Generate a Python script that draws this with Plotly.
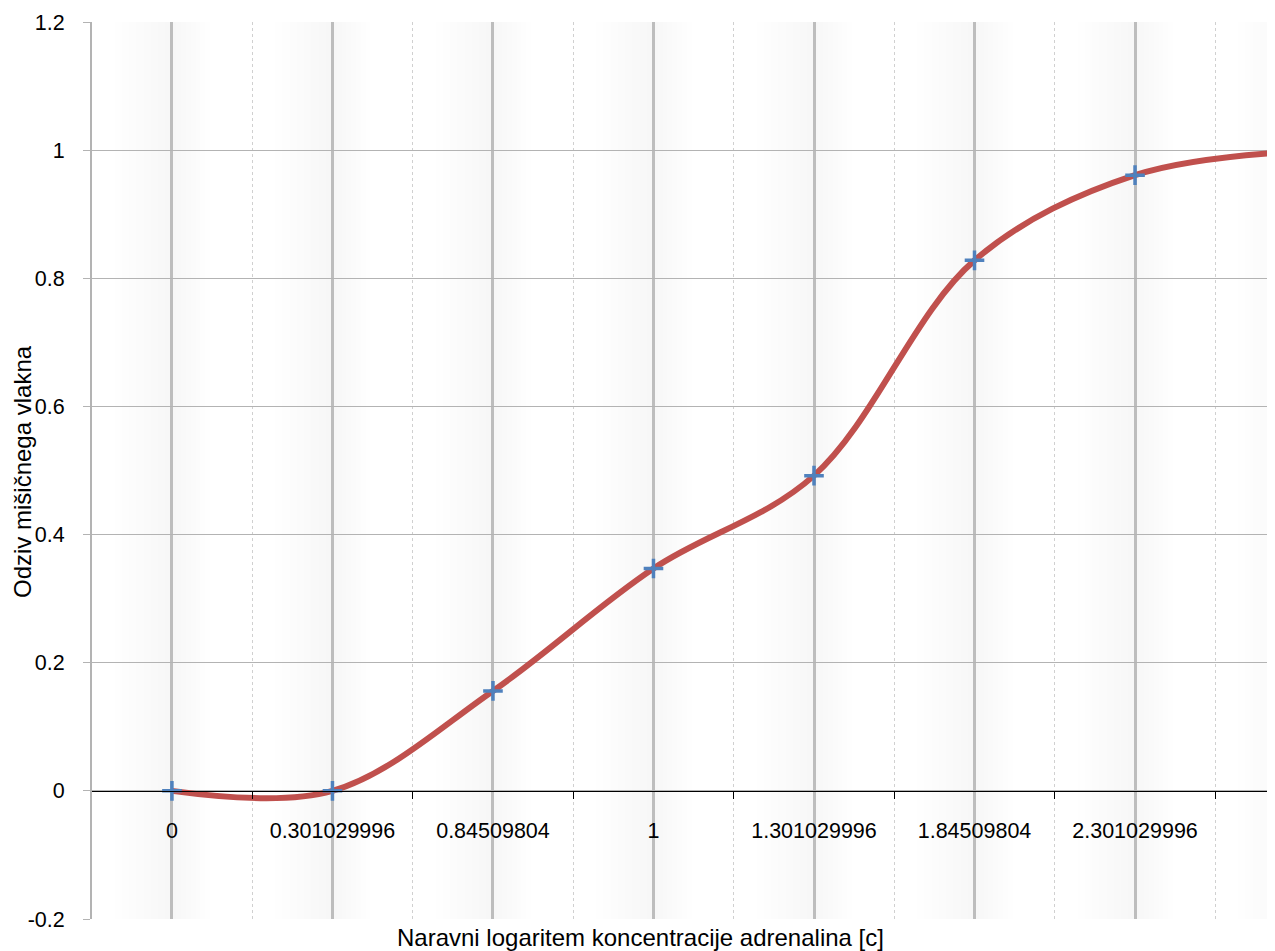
import plotly.graph_objects as go

categories = ["0", "0.301029996", "0.84509804", "1", "1.301029996",
              "1.84509804", "2.301029996", "2.84509804"]
response = [0.0, 0.0, 0.156, 0.347, 0.492, 0.828, 0.961, 0.998]
y_ticks = [-0.2, 0, 0.2, 0.4, 0.6, 0.8, 1, 1.2]
y_tick_labels = ["-0.2", "0", "0.2", "0.4", "0.6", "0.8", "1", "1.2"]

idx = list(range(len(categories)))

fig = go.Figure()

# soft shadow bands around each major vertical grid line
shapes = []
for i in idx:
    for k in range(1, 9):
        shapes.append(dict(type="rect", xref="x", yref="y domain",
                           x0=i - 0.045 * k, x1=i, y0=0, y1=1,
                           fillcolor="black", opacity=0.0055,
                           line=dict(width=0), layer="below"))
        shapes.append(dict(type="rect", xref="x", yref="y domain",
                           x0=i, x1=i + 0.03 * k, y0=0, y1=1,
                           fillcolor="black", opacity=0.0055,
                           line=dict(width=0), layer="below"))

fig.add_trace(go.Scatter(
    x=idx, y=response, mode="lines+markers",
    line=dict(color="#C0504D", width=6, shape="spline", smoothing=1.0),
    marker=dict(symbol="cross-thin", size=14,
                line=dict(color="#4F81BD", width=3.5), color="#4F81BD"),
    showlegend=False, cliponaxis=True,
))

font = "Liberation Sans, Arial, sans-serif"

# page body has an 8px margin: figure is sized/offset to compensate
W, H = 1267, 943
L, T, B = 84, 14, 32
PW, PH = W - L, H - T - B

fig.update_layout(
    width=W, height=H,
    margin=dict(l=L, r=0, t=T, b=B),
    plot_bgcolor="white", paper_bgcolor="white",
    font=dict(family=font, size=21.5, color="black"),
    shapes=shapes,
    xaxis=dict(
        range=[-0.498, 6.872],
        tickmode="array", tickvals=idx, ticktext=categories,
        showgrid=True, gridcolor="#bdbdbd", gridwidth=3,
        zeroline=False,
        showline=True, linecolor="black", linewidth=1,
        anchor="free", position=(919 - 791) / 897,
        ticks="", ticklabelstandoff=20,
        tickfont=dict(size=21.5, family=font),
        minor=dict(tick0=-0.5, dtick=1, showgrid=True, gridcolor="#d0d0d0",
                   griddash="dot", gridwidth=1, ticks="outside",
                   ticklen=7, tickcolor="black", tickwidth=1),
        automargin=False,
    ),
    yaxis=dict(
        range=[-0.2, 1.2],
        tickmode="array", tickvals=y_ticks, ticktext=y_tick_labels,
        showgrid=True, gridcolor="#b3b3b3", gridwidth=1,
        zeroline=False,
        showline=True, linecolor="#b3b3b3", linewidth=2,
        ticks="outside", ticklen=7, tickcolor="#b3b3b3",
        ticklabelstandoff=14,
        tickfont=dict(size=21.5, family=font),
        automargin=False,
    ),
    annotations=[
        dict(text="Naravni logaritem koncentracije adrenalina [c]",
             xref="paper", yref="paper", x=(632 - L) / PW, y=(H - B - 929) / PH,
             xanchor="center", yanchor="middle", showarrow=False,
             font=dict(size=24, family=font, color="black")),
        dict(text="Odziv mišičnega vlakna", textangle=-90,
             xref="paper", yref="paper", x=(14 - L) / PW, y=(H - B - 464) / PH,
             xanchor="center", yanchor="middle", showarrow=False,
             font=dict(size=24, family=font, color="black")),
    ],
)

fig.write_html("out.html")
